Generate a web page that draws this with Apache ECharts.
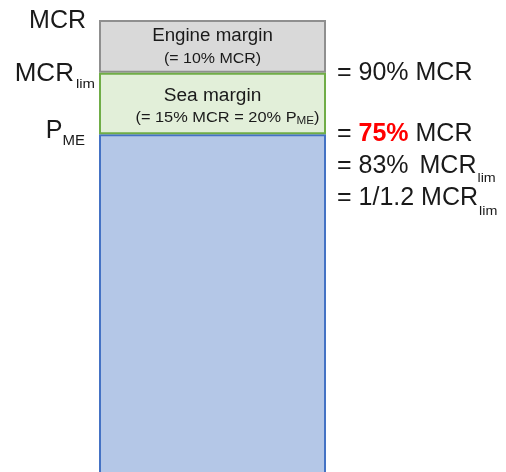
<!DOCTYPE html>
<html>
<head>
<meta charset="utf-8">
<script src="https://cdn.jsdelivr.net/npm/echarts@6.0.0/dist/echarts.min.js"></script>
<style>
  html, body { margin: 0; padding: 0; background: #fff; }
  #chart { width: 506px; height: 472px; }
</style>
</head>
<body>
<div id="chart"></div>
<script>
// one stacked column, segments as they appear in the picture (bottom -> top)
var categories = ['MCR'];
var pmeValues = [78.4];     // P_ME part (blue)
var seaValues = [11.6];     // sea margin (green)
var engineValues = [10];    // engine margin (grey)

var FONT = '"Liberation Sans", Arial, sans-serif';
var chart = echarts.init(document.getElementById('chart'));

function seg(name, data, fill, border, z) {
  return {
    name: name,
    type: 'bar',
    stack: 'total',
    data: data,
    barWidth: '100%',
    clip: false,
    z: z,
    itemStyle: { color: fill, borderColor: border, borderWidth: 2 }
  };
}

chart.setOption({
  animation: false,
  grid: { left: 99, right: 180, top: 20, bottom: 0 },
  xAxis: { type: 'category', data: categories, show: false },
  yAxis: { type: 'value', min: 14.5, max: 100, show: false },
  series: [
    seg('P_ME', pmeValues, '#b4c7e7', '#4472c4', 2),
    seg('Sea margin', seaValues, '#e2efd9', '#70ad47', 3),
    seg('Engine margin', engineValues, '#d9d9d9', '#8f8f8f', 1)
  ]
});

// text helper: a line made of pieces (normal / bold / subscript)
var ctx = document.createElement('canvas').getContext('2d');
function measure(p) {
  ctx.font = (p.w || 'normal') + ' ' + p.s + 'px ' + FONT;
  return ctx.measureText(p.t).width * (p.sx || 1) + (p.gap || 0);
}
function line(x, y, pieces, align) {
  var total = 0;
  pieces.forEach(function (p) { total += measure(p); });
  var cx = align === 'right' ? x - total : align === 'center' ? x - total / 2 : x;
  var out = [];
  pieces.forEach(function (p) {
    out.push({
      type: 'text',
      x: cx,
      y: y + (p.dy || 0),
      scaleX: p.sx || 1,
      z: 50,
      silent: true,
      style: {
        text: p.t,
        fontSize: p.s,
        fontFamily: FONT,
        fontWeight: p.w || 'normal',
        fill: p.c || '#1a1a1a',
        textAlign: 'left',
        textVerticalAlign: 'middle'
      }
    });
    cx += measure(p);
  });
  return out;
}

var left = 99, right = 326, mid = (left + right) / 2;
var yTop = chart.convertToPixel({ gridIndex: 0 }, [0, pmeValues[0] + seaValues[0] + engineValues[0]])[1];
var yLim = chart.convertToPixel({ gridIndex: 0 }, [0, pmeValues[0] + seaValues[0]])[1];
var yPme = chart.convertToPixel({ gridIndex: 0 }, [0, pmeValues[0]])[1];

var big = 25, sub = 13;
var g = [];
// left side
g = g.concat(line(86, yTop + 1, [{ t: 'MCR', s: big }], 'right'));
g = g.concat(line(95, yLim + 1, [{ t: 'MCR', s: big, sx: 1.04, gap: 2 }, { t: 'lim', s: sub, sx: 1.15, dy: 11 }], 'right'));
g = g.concat(line(85, yPme - 3, [{ t: 'P', s: big }, { t: 'ME', s: 15, dy: 10 }], 'right'));
// inside the column
g = g.concat(line(mid, (yTop + yLim) / 2 - 10, [{ t: 'Engine margin', s: 18, sx: 1.04 }], 'center'));
g = g.concat(line(mid, (yTop + yLim) / 2 + 13, [{ t: '(= 10% MCR)', s: 14, sx: 1.14 }], 'center'));
g = g.concat(line(mid, (yLim + yPme) / 2 - 7, [{ t: 'Sea margin', s: 18, sx: 1.06 }], 'center'));
g = g.concat(line(mid + 15, (yLim + yPme) / 2 + 15, [
  { t: '(= 15% MCR = 20% P', s: 14, sx: 1.17 },
  { t: 'ME', s: 10, sx: 1.17, dy: 3 },
  { t: ')', s: 14, sx: 1.17 }
], 'center'));
// right side
var rx = 337;
g = g.concat(line(rx, yLim, [{ t: '= 90% MCR', s: big }], 'left'));
g = g.concat(line(rx, yPme, [{ t: '= ', s: big }, { t: '75%', s: big, w: 'bold', c: '#ff0000' }, { t: ' MCR', s: big }], 'left'));
g = g.concat(line(rx, yPme + 32, [
  { t: '= 83% ', s: big, gap: 4 },
  { t: 'MCR', s: big, gap: 1 },
  { t: 'lim', s: sub, sx: 1.1, dy: 12 }
], 'left'));
g = g.concat(line(rx, yPme + 64, [
  { t: '= 1/1.2 MCR', s: big, gap: 1 },
  { t: 'lim', s: sub, sx: 1.1, dy: 13 }
], 'left'));

chart.setOption({ graphic: g });
</script>
</body>
</html>
